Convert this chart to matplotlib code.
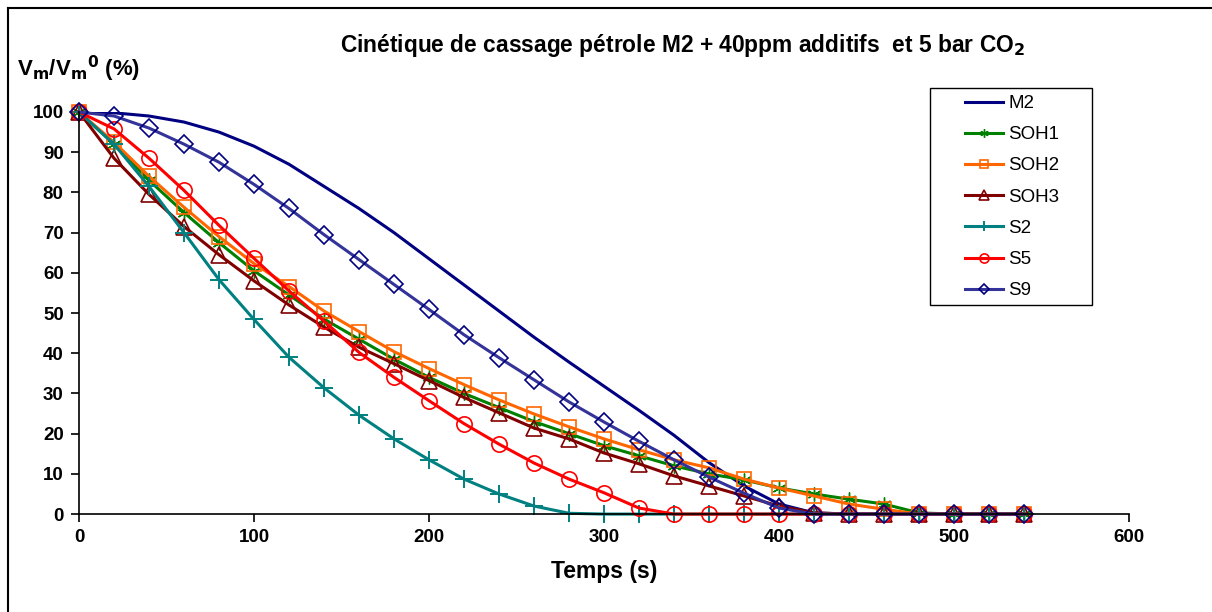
import numpy as np
import matplotlib
matplotlib.use("Agg")
import matplotlib.pyplot as plt
from matplotlib.lines import Line2D
from matplotlib.patches import Rectangle

plt.rcParams['font.family'] = ['Liberation Sans', 'DejaVu Sans']
plt.rcParams['font.weight'] = 'bold'

# time axis (s)
temps = np.arange(0, 560, 20)

m2 = [100, 99.8, 99, 97.5, 95, 91.5, 87, 81.5, 76, 70, 63.5, 57, 50.5, 44, 37.8, 31.8,
      25.8, 19.6, 12.8, 7, 2.5, 0.3, 0, 0, 0, 0, 0, 0]
soh1 = [100, 92, 83, 75, 67.5, 60.5, 54.5, 48.5, 43.5, 38.5, 34, 30, 26.5, 23, 20, 17,
        14.5, 12, 10, 8.5, 6.5, 5, 3.7, 2.5, 0.3, 0, 0, 0]
soh2 = [100, 92.5, 84, 76.3, 69, 62.3, 56.6, 50.5, 45.4, 40.4, 36.2, 32.2, 28.4, 24.9, 21.7, 18.7,
        16, 13.5, 11.5, 8.7, 6.5, 4.5, 2.5, 1.2, 0, 0, 0, 0]
soh3 = [100, 88.5, 79.5, 71.5, 64.5, 58, 52, 46.5, 41.5, 37.4, 33.2, 29, 25.2, 21.4, 18.7, 15.2,
        12.5, 9.5, 7, 4.5, 2, 0.3, 0, 0, 0, 0, 0, 0]
s2 = [100, 92, 81.5, 70, 58.3, 48.4, 39, 31.4, 24.6, 18.7, 13.5, 8.7, 5, 2, 0.2, 0,
      0, 0, 0, 0, 0, 0, 0, 0, 0, 0, 0, 0]
s5 = [100, 95.8, 88.5, 80.5, 71.8, 63.6, 55.5, 48, 40.2, 34, 28.2, 22.5, 17.4, 12.7, 8.7, 5.3,
      1.5, 0, 0, 0, 0, 0, 0, 0, 0, 0, 0, 0]
s9 = [100, 99, 96, 92, 87.5, 82, 76, 69.5, 63.3, 57.1, 50.9, 44.6, 38.9, 33.4, 27.9, 22.9,
      18.1, 13.5, 9.2, 5.2, 1.5, 0, 0, 0, 0, 0, 0, 0]

fig = plt.figure(figsize=(12.12, 6.12), dpi=100)
ax = fig.add_axes([0.0652, 0.160, 0.8663, 0.657])

ax.plot(temps, m2, color='#000080', lw=2.2, label='M2')
ax.plot(temps, soh1, color='#008000', lw=2.2, marker=(6, 2, 0), ms=10, mew=1.0,
        label='SOH1', clip_on=False)
ax.plot(temps, soh2, color='#FF6600', lw=2.2, marker='s', ms=10, mfc='none', mew=1.2,
        label='SOH2', clip_on=False)
ax.plot(temps, soh3, color='#800000', lw=2.2, marker='^', ms=11, mfc='none', mew=1.2,
        label='SOH3', clip_on=False)
ax.plot(temps, s2, color='#008080', lw=2.2, marker='+', ms=13, mew=1.4,
        label='S2', clip_on=False)
ax.plot(temps, s5, color='#FF0000', lw=2.2, marker='o', ms=11, mfc='none', mew=1.2,
        label='S5', clip_on=False)
ax.plot(temps, s9, color='#333399', lw=2.2, marker='D', ms=9, mfc='none', mew=1.2,
        mec='#000080', label='S9', clip_on=False)

ax.set_xlim(0, 600)
ax.set_ylim(0, 100)
ax.set_xticks(range(0, 601, 100))
ax.set_yticks(range(0, 101, 10))
ax.spines['top'].set_visible(False)
ax.spines['right'].set_visible(False)
ax.spines['left'].set_linewidth(1.2)
ax.spines['bottom'].set_linewidth(1.2)
ax.tick_params(direction='out', length=6, width=1.2, labelsize=13.5, pad=5)
for lab in ax.get_xticklabels() + ax.get_yticklabels():
    lab.set_fontweight('bold')

ax.set_xlabel('Temps (s)', fontsize=16.5, fontweight='bold', labelpad=10)
fig.text(0.563, 0.925, 'Cinétique de cassage pétrole M2 + 40ppm additifs  et 5 bar CO$_\\mathbf{2}$',
         ha='center', va='center', fontsize=16.4, fontweight='bold')
fig.text(0.014, 0.888, 'V$_\\mathbf{m}$/V$_\\mathbf{m}$$^\\mathbf{0}$ (%)',
         ha='left', va='center', fontsize=16, fontweight='bold')

leg = fig.legend(loc='upper left', bbox_to_anchor=(965 / 1212, 1 - 95 / 612), frameon=False,
                 fontsize=13.5, handlelength=2.0, labelspacing=0.75, borderpad=0,
                 handletextpad=0.3, markerscale=0.6, borderaxespad=0)
for t in leg.get_texts():
    t.set_fontweight('normal')

# legend frame
fig.add_artist(Rectangle((930 / 1212, 1 - 305 / 612), 162 / 1212, 217 / 612, fill=False,
                         edgecolor='black', lw=1.0, transform=fig.transFigure))

# outer frame (top and left edges)
fig.add_artist(Line2D([8 / 1212, 1], [1 - 8 / 612, 1 - 8 / 612], color='black', lw=1.5,
                      transform=fig.transFigure))
fig.add_artist(Line2D([8 / 1212, 8 / 1212], [0, 1 - 8 / 612], color='black', lw=1.5,
                      transform=fig.transFigure))

plt.savefig("out.png", dpi=100)
